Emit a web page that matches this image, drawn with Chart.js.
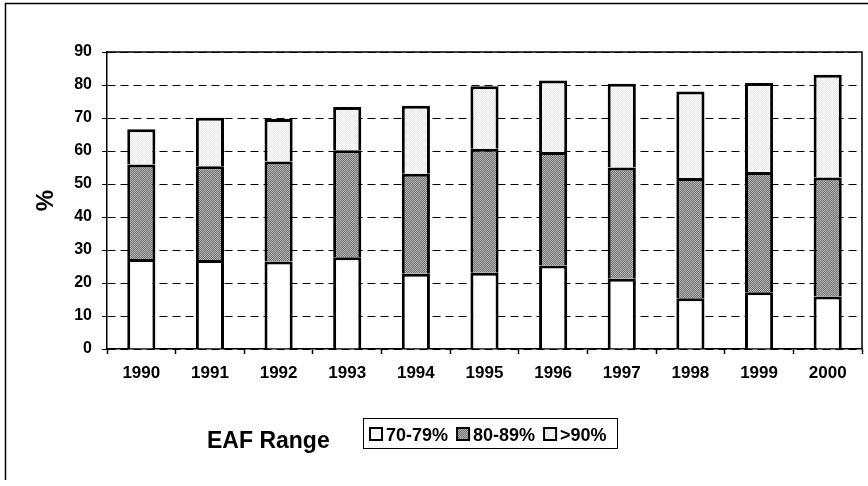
<!DOCTYPE html>
<html>
<head>
<meta charset="utf-8">
<script src="https://cdn.jsdelivr.net/npm/chart.js@4.4.1/dist/chart.umd.min.js"></script>
<style>
  html, body { margin: 0; padding: 0; background: #fff; }
  #wrap { width: 868px; height: 486px; position: relative; }
</style>
</head>
<body>
<div id="wrap"><canvas id="eaf-chart" width="868" height="486"></canvas></div>
<script>
// years on the x axis
const years = ['1990', '1991', '1992', '1993', '1994', '1995', '1996', '1997', '1998', '1999', '2000']
// segment heights (%), stacked bottom to top
const range70to79 = [27.3, 27.0, 26.5, 27.8, 22.8, 23.1, 25.3, 21.3, 15.4, 17.2, 15.9]
const range80to89 = [28.6, 28.4, 30.3, 32.4, 30.3, 37.6, 34.4, 33.7, 36.4, 36.4, 36.1]
const rangeOver90 = [10.7, 14.7, 12.9, 13.1, 20.6, 18.9, 21.7, 25.4, 26.2, 27.0, 31.1]
const seriesNames = ['70-79%', '80-89%', '>90%']
const yTicks = [0, 10, 20, 30, 40, 50, 60, 70, 80, 90]

const FONT = "'Liberation Sans', Arial, sans-serif"

// little stipple patterns to get the scanned look
const stipple = (a, b) => {
  const c = document.createElement('canvas')
  c.width = 2
  c.height = 2
  const g = c.getContext('2d')
  g.fillStyle = a
  g.fillRect(0, 0, 2, 2)
  g.fillStyle = b
  g.fillRect(0, 0, 1, 1)
  g.fillRect(1, 1, 1, 1)
  return g.createPattern(c, 'repeat')
}
const fills = ['#ffffff', stipple('#727272', '#b4b4b4'), stipple('#e8e8e8', '#ffffff')]

const framePlugin = {
  id: 'frame',
  afterDraw(chart) {
    const { ctx, chartArea: a } = chart
    ctx.save()
    ctx.strokeStyle = '#000'
    ctx.lineWidth = 1.5
    // outer border of the picture
    ctx.beginPath()
    ctx.moveTo(5.5, 480)
    ctx.lineTo(5.5, 3.5)
    ctx.lineTo(868, 3.5)
    ctx.stroke()
    // top and right edges of the plot area
    ctx.beginPath()
    ctx.moveTo(a.left, a.top)
    ctx.lineTo(a.right, a.top)
    ctx.lineTo(a.right, a.bottom)
    ctx.stroke()

    // "EAF Range" + boxed legend
    ctx.fillStyle = '#000'
    ctx.textBaseline = 'alphabetic'
    ctx.font = 'bold 23px ' + FONT
    ctx.fillText('EAF Range', 207, 448)

    ctx.lineWidth = 1
    ctx.strokeRect(363.5, 418.5, 254, 30)
    ctx.font = 'bold 18px ' + FONT
    let x = 369
    chart.data.datasets.forEach((ds) => {
      ctx.fillStyle = ds.backgroundColor
      ctx.fillRect(x, 427, 14, 14)
      ctx.lineWidth = 2
      ctx.strokeRect(x + 1, 428, 12, 12)
      ctx.fillStyle = '#000'
      ctx.fillText(ds.label, x + 17, 441)
      x += 17 + ctx.measureText(ds.label).width + 8
    })
    ctx.restore()
  },
}

const data = {
  labels: years,
  datasets: [range70to79, range80to89, rangeOver90].map((values, i) => ({
    label: seriesNames[i],
    data: values,
    backgroundColor: fills[i],
    borderColor: '#000',
    borderWidth: { top: 3, left: 3, right: 3, bottom: 0 },
    borderSkipped: false,
    categoryPercentage: 1,
    barPercentage: 0.41,
  })),
}

const config = {
  type: 'bar',
  data,
  plugins: [framePlugin],
  options: {
    responsive: false,
    animation: false,
    layout: { padding: { top: 52, right: 6, bottom: 102, left: 0 } },
    plugins: {
      legend: { display: false },
      tooltip: { enabled: false },
    },
    scales: {
      x: {
        stacked: true,
        afterFit: (s) => { s.height = 35 },
        grid: {
          offset: true,
          drawOnChartArea: false,
          drawTicks: true,
          tickLength: 5,
          tickColor: '#000',
          tickWidth: 1.5,
        },
        border: { color: '#000', width: 1.5 },
        ticks: {
          color: '#000',
          padding: 9,
          font: { family: FONT, size: 17, weight: 'bold' },
          maxRotation: 0,
        },
      },
      y: {
        stacked: true,
        min: 0,
        max: 90,
        afterFit: (s) => { s.width = 107 },
        afterBuildTicks: (s) => { s.ticks = yTicks.map((v) => ({ value: v })) },
        grid: {
          color: '#000',
          lineWidth: 1,
          drawTicks: true,
          tickLength: 5,
          tickColor: '#000',
        },
        border: { color: '#000', width: 1.5, dash: [8, 5] },
        ticks: {
          color: '#000',
          padding: 10,
          font: { family: FONT, size: 16, weight: 'bold' },
        },
        title: {
          display: true,
          text: '%',
          color: '#000',
          padding: { top: 32, bottom: 0 },
          font: { family: FONT, size: 24, weight: 'bold' },
        },
      },
    },
  },
}

new Chart(document.getElementById('eaf-chart'), config)
</script>
</body>
</html>
